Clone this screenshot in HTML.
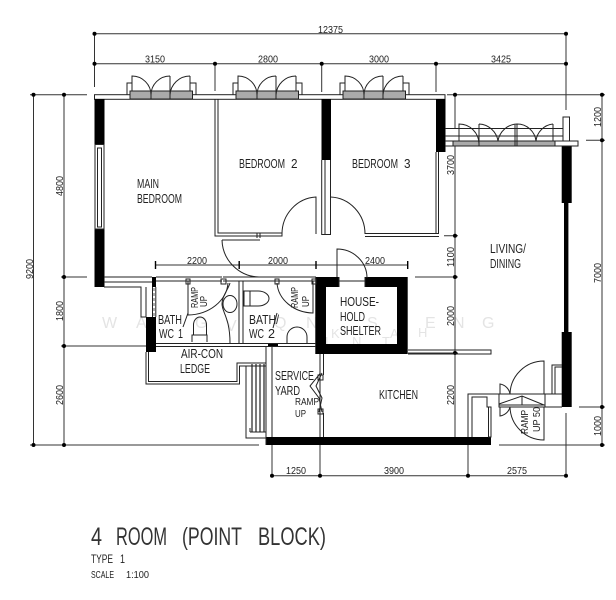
<!DOCTYPE html>
<html><head><meta charset="utf-8"><style>
html,body{margin:0;padding:0;background:#fff;width:616px;height:600px;overflow:hidden}
svg{display:block;filter:blur(0.35px)}
text{font-family:"Liberation Sans",sans-serif;fill:#222}
.l{fill:none;stroke:#222;stroke-width:1}
.d{fill:none;stroke:#333;stroke-width:1}
.k{fill:#000;stroke:none}
.r text{font-size:13px}
.n text{font-size:10.5px}
.s text{font-size:10.5px}
.w text{font-size:16px;fill:#e4e4e4}
.w2 text{font-size:13px;fill:#e4e4e4}
.t text{font-size:25px;fill:#333}
</style></head><body>
<svg width="616" height="600" viewBox="0 0 616 600" xmlns="http://www.w3.org/2000/svg">
<!-- watermark -->
<g class="w">
<text x="102" y="328">W</text><text x="136" y="328">A</text><text x="195" y="328">G</text><text x="226" y="331">V</text><text x="274" y="328">Q</text><text x="306" y="328">N</text><text x="367" y="328">S</text><text x="397" y="328">H</text><text x="425" y="328">E</text><text x="453" y="328">N</text><text x="482" y="328">G</text>
</g>
<g class="w2">
<text x="331" y="338">K</text><text x="390" y="338">A</text><text x="418" y="337">H</text>
<text x="325" y="346">L</text><text x="352" y="346">N</text><text x="382" y="346">T</text>
</g>
<!-- dimension lines -->
<path class="d" d="M94.5 33.7H566M94.5 63.7H566M94.5 33.7V87M215 63.7V91M321.7 63.7V92M436 63.7V92M566 33.7V110
M30 94.7H87M33.5 94.7V445M64 94.7V445M61 277H87M61 346H146M30 445H259
M447 94.7H605M602 94.7V445M586 140.3H605M579 407H605M499 445H605
M455 94.7V129M455 146V437M444 235.7H458M415 277H458M408 353H458
M272 346V475.7M272 475.7H566M320 437V475.7M468 445V475.7M566 413V475.7
M155.5 265H407.7"/>
<g class="k">
<circle cx="94.5" cy="33.7" r="2"/><circle cx="566" cy="33.7" r="2"/><circle cx="94.5" cy="63.7" r="2"/><circle cx="215" cy="63.7" r="2"/><circle cx="321.7" cy="63.7" r="2"/><circle cx="436" cy="63.7" r="2"/><circle cx="566" cy="63.7" r="2"/>
<circle cx="33.5" cy="94.7" r="2"/><circle cx="64" cy="94.7" r="2"/><circle cx="64" cy="277" r="2"/><circle cx="64" cy="346" r="2"/><circle cx="33.5" cy="445" r="2"/><circle cx="64" cy="445" r="2"/>
<circle cx="455" cy="94.7" r="2"/><circle cx="602" cy="94.7" r="2"/><circle cx="602" cy="140.3" r="2"/><circle cx="602" cy="407" r="2"/><circle cx="602" cy="445" r="2"/>
<circle cx="455" cy="235.7" r="2"/><circle cx="455" cy="277" r="2"/><circle cx="455" cy="353" r="2"/>
<circle cx="272" cy="475.7" r="2"/><circle cx="320" cy="475.7" r="2"/><circle cx="468" cy="475.7" r="2"/><circle cx="566" cy="475.7" r="2"/>
<rect x="154.8" y="261" width="1.4" height="8"/><rect x="238.5" y="261" width="1.4" height="8"/><rect x="315.3" y="261" width="1.4" height="8"/><rect x="407" y="261" width="1.4" height="8"/>
</g>
<!-- top wall -->
<rect class="l" x="94.5" y="94.7" width="350.5" height="4.6"/>
<!-- bedroom windows -->
<defs><g id="win">
<path class="l" d="M127 95V83H132M190 83H196V95"/>
<rect x="130" y="91" width="62.5" height="8" fill="#aaa" stroke="#222"/>
<path class="l" d="M151 99V91M170 99V91"/>
<path class="l" d="M132 91V76A19 19 0 0 1 151 95M170 76A19 19 0 0 0 151 95M170 76V91M190 76V91M190 76A20 20 0 0 0 170 95"/>
</g></defs>
<use href="#win"/>
<use href="#win" x="106"/>
<use href="#win" x="213"/>
<!-- walls black -->
<g class="k">
<rect x="94.5" y="99" width="10" height="45"/>
<rect x="94.5" y="229" width="10" height="58"/>
<rect x="321.5" y="99" width="9.5" height="61"/>
<rect x="436" y="99" width="9.5" height="53"/>
<rect x="561.7" y="146" width="10" height="57"/>
<rect x="564" y="203" width="4.4" height="129"/>
<rect x="561.7" y="332" width="10" height="75"/>
<rect x="266" y="437" width="225" height="8"/>
<rect x="152" y="277" width="4" height="10"/>
<rect x="146" y="317" width="10" height="35"/>
<rect x="268" y="343" width="10" height="3.5"/>
<path d="M315.3 277H407.7V354H315.3ZM326 287V344H397V287Z" fill-rule="evenodd"/>
</g>
<rect x="339" y="276" width="26" height="11" fill="#fff"/>
<path class="l" d="M339 277V287M365 277V287M339 281H365"/>
<!-- main bedroom window -->
<rect class="l" x="95" y="144.5" width="9" height="84.5"/>
<rect class="l" x="97.5" y="148" width="4" height="79"/>
<!-- bedroom partitions -->
<path class="l" d="M215 99V236H282V233M218 99V233H282"/>
<path class="l" d="M321.7 160V234.5H330.5V160M325 160V234.5"/>
<path class="l" d="M316 234V197A36 37 0 0 0 282 234M330.5 197A36 37 0 0 1 365 234"/>
<path class="l" d="M365 233.5H438.5V152M365 236.5H439"/>
<path class="l" d="M436 233V152"/>
<!-- bedroom 2 door lower (into corridor) -->
<path class="l" d="M222 240A38 38 0 0 0 259 277M257 233V238M260 233V238M222 240H260"/>
<!-- living window -->
<path class="l" d="M445 128.5H563M445 136H563M445 141H555M445 146H555"/>
<rect x="453" y="141" width="102" height="5" fill="#aaa" stroke="#222"/>
<path class="l" d="M479 141V146M515 141V146M517 141V146"/>
<path class="l" d="M459 141V124A20 20 0 0 1 479 144M479 124V141M479 124A20 20 0 0 1 498 141M517 124A20 20 0 0 0 498 141M515 124V141M517 124V141M517 124A19 19 0 0 1 536 141M553 124A19 19 0 0 0 536 141M553 124V141"/>
<path class="l" d="M563 141V117H569.5V141M555 141H578V146H555Z"/>
<!-- south of main bedroom -->
<path class="l" d="M104 277H152M104 282H152M104 287H141V317H146M146 287V317"/>
<path class="l" d="M152.5 287V317M155.8 287V317"/>
<path stroke="#777" stroke-width="1.2" stroke-dasharray="3 2" d="M154 288V317"/>
<!-- baths -->
<path class="l" d="M156 277H222M156 281H222M223 277H277M223 281H277M277 277H316M277 281H316"/>
<path class="l" d="M239 281V344M243 281V344"/>
<path class="l" d="M156 343.5H316M156 346.5H316"/>
<path class="l" d="M188 281V315A41 34 0 0 0 228 283M313 281V313A37 32 0 0 1 277 283"/>
<path class="l" d="M183 327L188 313M273 328L277 313"/>
<path class="l" d="M186 279H190V284H186ZM221 279H226V284H221ZM275 279H279V284H275ZM312 279H316V284H312Z"/>
<!-- sanitary -->
<path class="l" d="M192 342V335H207V342M193.5 335V325A6.5 8 0 0 1 206.5 325V335"/>
<ellipse class="l" cx="230" cy="304" rx="7" ry="8.5"/>
<path class="l" d="M230 283C228 290 222 296 222 304C222 312 230 318 230 343"/>
<path class="l" d="M244 291H250V306H244ZM250 291H258A11 7.5 0 0 1 258 306H250"/>
<path class="l" d="M287 344V337A10 10 0 0 1 307 337V344"/>
<!-- air-con ledge -->
<path class="l" d="M146 352V384H239.5V366H266M148.5 352V381.5H237V363H266"/>
<path class="l" d="M266 346V445M272 346V437"/>
<path stroke="#222" stroke-width="1.2" d="M252 364V432M256 364V432M260 364V432M264 364V432"/>
<path class="l" d="M246 366V438H266M250 432H266M250 432V428"/>
<!-- household shelter door -->
<path class="l" d="M337 277V249A30 29 0 0 1 367 278"/>
<!-- wall after shelter -->
<path class="l" d="M408 350H491V354H408"/>
<!-- service yard wall -->
<path class="l" d="M320 354V437M323.5 354V375M323.5 413V437"/>
<path class="l" d="M320.5 373L310 386L319 398L322 412M322 373L316 386L322 398L319 412M318 375H323V380H318ZM318 409H323V414H318Z"/>
<!-- kitchen right return -->
<path class="l" d="M468 437V394H499M472 437V397H487V407H491V437M487 407H491"/>
<rect x="488.5" y="407" width="2.5" height="30" fill="#fff" stroke="#222"/>
<!-- entrance -->
<rect class="l" x="499" y="394" width="46" height="13"/>
<path class="l" d="M499 404L522 396L544 405M499 405H545M522 396V405"/>
<path class="l" d="M545 394H562M545 407H562"/>
<path class="l" d="M544 394V361A34 34 0 0 0 510 394"/>
<path class="l" d="M500 394V384A12 12 0 0 1 510 394"/>
<path class="l" d="M544 407V440A34 34 0 0 1 510 407"/>
<path class="l" d="M500 407V416A12 12 0 0 0 510 407"/>
<path class="l" d="M552 394V365H562M555 394V367H562"/>
<!-- room labels -->
<g class="r">
<text x="239" y="168" textLength="46" lengthAdjust="spacingAndGlyphs">BEDROOM</text><text x="291" y="168" textLength="6.5" lengthAdjust="spacingAndGlyphs">2</text>
<text x="352" y="168" textLength="46" lengthAdjust="spacingAndGlyphs">BEDROOM</text><text x="404" y="168" textLength="6.5" lengthAdjust="spacingAndGlyphs">3</text>
<text x="137" y="188" textLength="22" lengthAdjust="spacingAndGlyphs">MAIN</text>
<text x="137" y="203" textLength="45" lengthAdjust="spacingAndGlyphs">BEDROOM</text>
<text x="490" y="253" textLength="36" lengthAdjust="spacingAndGlyphs">LIVING/</text>
<text x="490" y="268" textLength="31" lengthAdjust="spacingAndGlyphs">DINING</text>
<text x="158" y="324" textLength="24" lengthAdjust="spacingAndGlyphs">BATH</text>
<text x="159" y="338" textLength="15" lengthAdjust="spacingAndGlyphs">WC</text><text x="178" y="338" textLength="5" lengthAdjust="spacingAndGlyphs">1</text>
<text x="249" y="324" textLength="30" lengthAdjust="spacingAndGlyphs">BATH/</text>
<text x="249" y="338" textLength="15" lengthAdjust="spacingAndGlyphs">WC</text><text x="268" y="338" textLength="7" lengthAdjust="spacingAndGlyphs">2</text>
<text x="181" y="358" textLength="42" lengthAdjust="spacingAndGlyphs">AIR-CON</text>
<text x="180" y="373" textLength="30" lengthAdjust="spacingAndGlyphs">LEDGE</text>
<text x="275" y="380" textLength="39" lengthAdjust="spacingAndGlyphs">SERVICE</text>
<text x="275" y="395" textLength="25" lengthAdjust="spacingAndGlyphs">YARD</text>
<text x="340" y="306" textLength="39" lengthAdjust="spacingAndGlyphs">HOUSE-</text>
<text x="340" y="321" textLength="25" lengthAdjust="spacingAndGlyphs">HOLD</text>
<text x="340" y="335" textLength="41" lengthAdjust="spacingAndGlyphs">SHELTER</text>
<text x="379" y="399" textLength="39" lengthAdjust="spacingAndGlyphs">KITCHEN</text>
</g>
<g class="s">
<text x="295" y="405" textLength="24" lengthAdjust="spacingAndGlyphs">RAMP</text>
<text x="295" y="417" textLength="11" lengthAdjust="spacingAndGlyphs">UP</text>
<text transform="translate(198,308) rotate(-90)" textLength="21" lengthAdjust="spacingAndGlyphs">RAMP</text>
<text transform="translate(207,307) rotate(-90)" textLength="11" lengthAdjust="spacingAndGlyphs">UP</text>
<text transform="translate(298,308) rotate(-90)" textLength="21" lengthAdjust="spacingAndGlyphs">RAMP</text>
<text transform="translate(309,307) rotate(-90)" textLength="11" lengthAdjust="spacingAndGlyphs">UP</text>
<text transform="translate(528,434) rotate(-90)" textLength="24" lengthAdjust="spacingAndGlyphs">RAMP</text>
<text transform="translate(540,432) rotate(-90)" textLength="25" lengthAdjust="spacingAndGlyphs">UP 50</text>
</g>
<!-- dimension labels -->
<g class="n">
<text x="318" y="33" textLength="25" lengthAdjust="spacingAndGlyphs">12375</text>
<text x="145" y="62.5" textLength="20" lengthAdjust="spacingAndGlyphs">3150</text>
<text x="258" y="62.5" textLength="20" lengthAdjust="spacingAndGlyphs">2800</text>
<text x="369" y="62.5" textLength="20" lengthAdjust="spacingAndGlyphs">3000</text>
<text x="491" y="62.5" textLength="20" lengthAdjust="spacingAndGlyphs">3425</text>
<text x="187" y="264" textLength="20" lengthAdjust="spacingAndGlyphs">2200</text>
<text x="268" y="264" textLength="20" lengthAdjust="spacingAndGlyphs">2000</text>
<text x="365" y="264" textLength="20" lengthAdjust="spacingAndGlyphs">2400</text>
<text x="286" y="474" textLength="20" lengthAdjust="spacingAndGlyphs">1250</text>
<text x="384" y="474" textLength="20" lengthAdjust="spacingAndGlyphs">3900</text>
<text x="507" y="474" textLength="20" lengthAdjust="spacingAndGlyphs">2575</text>
<text transform="translate(33,279) rotate(-90)" textLength="20" lengthAdjust="spacingAndGlyphs">9200</text>
<text transform="translate(63,196) rotate(-90)" textLength="20" lengthAdjust="spacingAndGlyphs">4800</text>
<text transform="translate(63,321) rotate(-90)" textLength="20" lengthAdjust="spacingAndGlyphs">1800</text>
<text transform="translate(63,405) rotate(-90)" textLength="20" lengthAdjust="spacingAndGlyphs">2600</text>
<text transform="translate(454,175) rotate(-90)" textLength="20" lengthAdjust="spacingAndGlyphs">3700</text>
<text transform="translate(454,267) rotate(-90)" textLength="20" lengthAdjust="spacingAndGlyphs">1100</text>
<text transform="translate(454,326) rotate(-90)" textLength="20" lengthAdjust="spacingAndGlyphs">2000</text>
<text transform="translate(454,405) rotate(-90)" textLength="20" lengthAdjust="spacingAndGlyphs">2200</text>
<text transform="translate(601,127) rotate(-90)" textLength="20" lengthAdjust="spacingAndGlyphs">1200</text>
<text transform="translate(601,283) rotate(-90)" textLength="20" lengthAdjust="spacingAndGlyphs">7000</text>
<text transform="translate(601,436) rotate(-90)" textLength="20" lengthAdjust="spacingAndGlyphs">1000</text>
</g>
<!-- title -->
<g class="t">
<text x="91" y="545" textLength="11" lengthAdjust="spacingAndGlyphs">4</text>
<text x="116" y="545" textLength="51" lengthAdjust="spacingAndGlyphs">ROOM</text>
<text x="182" y="545" textLength="60" lengthAdjust="spacingAndGlyphs">(POINT</text>
<text x="258" y="545" textLength="68" lengthAdjust="spacingAndGlyphs">BLOCK)</text>
</g>
<text x="91" y="563" style="font-size:11.5px" textLength="22" lengthAdjust="spacingAndGlyphs">TYPE</text>
<text x="120" y="563" style="font-size:11.5px" textLength="5" lengthAdjust="spacingAndGlyphs">1</text>
<text x="91" y="578" style="font-size:10px" textLength="23" lengthAdjust="spacingAndGlyphs">SCALE</text>
<text x="126" y="578" style="font-size:10px" textLength="23" lengthAdjust="spacingAndGlyphs">1:100</text>
</svg>
</body></html>
